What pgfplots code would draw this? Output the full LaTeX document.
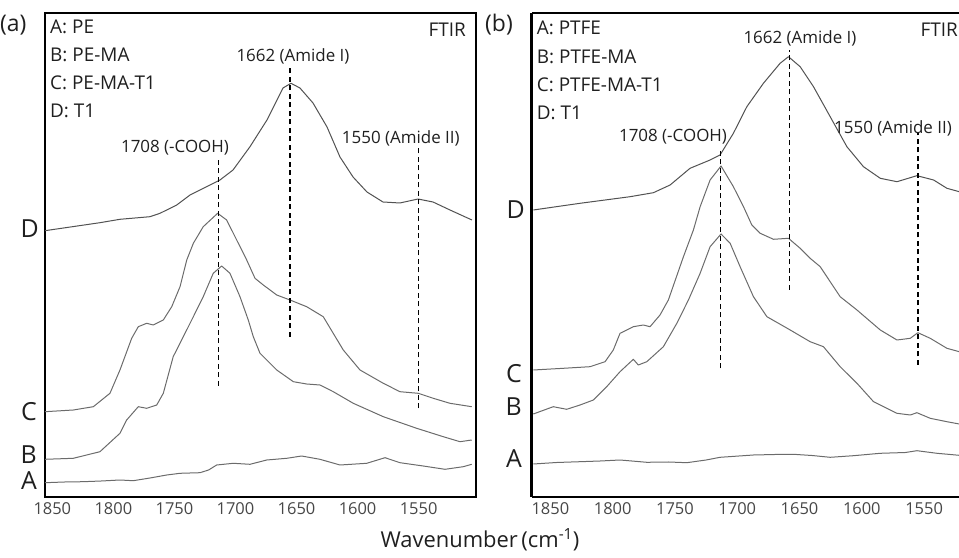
\documentclass[border=0pt]{standalone}
\usepackage{fontspec}
\setmainfont{Open Sans}
\usepackage{pgfplots}
\pgfplotsset{compat=1.18}

\newcommand\fs[1]{\fontsize{#1}{#1}\selectfont}

\pgfplotsset{
  ftir/.style={
    scale only axis, height=484bp,
    x dir=reverse, ymin=0, ymax=484,
    xtick={1550,1600,1650,1700,1750,1800,1850}, ytick=\empty,
    major tick length=0pt,
    /pgf/number format/assume math mode=true,
    /pgf/number format/set thousands separator={},
    xticklabel style={font=\fs{16.5}, text=black!72, yshift=-2bp},
    axis line style={line width=2.5bp, black},
  },
  spec/.style={line width=1bp, color=black!58, line join=round, mark=none},
  specD/.style={spec, color=black!68},
  peak/.style={black, line width=1.3bp, dash pattern=on 5bp off 3.5bp, mark=none},
}

\begin{document}
\begin{tikzpicture}
\useasboundingbox (0,0) rectangle (959bp,558bp);

% ---- panel (a): PE ----
\begin{axis}[ftir, at={(45bp,61bp)}, anchor=south west, width=431bp,
  xmin=1503, xmax=1856]
  % A: PE
  \addplot[spec] coordinates {(1856,14.3)(1840,15)(1824.6,15.3)(1810,16)(1794.6,17)(1783.7,16.3)(1770,19)(1756.3,22)(1745.4,23.7)(1729.1,24.3)(1722,27)(1715.4,32)(1701.8,33.7)(1688.1,32.7)(1674.4,37)(1658,38.7)(1645.8,41)(1630.8,37.7)(1614.4,32)(1592.5,33.7)(1577.5,39.3)(1565.3,34.3)(1546.2,31)(1528.4,27.7)(1513.4,30.3)(1506.5,32.7)};
  % B: PE-MA
  \addplot[spec] coordinates {(1856,37.7)(1832.8,38.7)(1811,45.3)(1794.6,63.7)(1789.1,77)(1779.6,90.3)(1772.7,88.7)(1764.5,92)(1759.1,103.7)(1751,140.3)(1742.7,160.3)(1734.5,180.3)(1726.4,200.3)(1718.2,223.7)(1711.3,231)(1704.5,223.7)(1696.3,200.3)(1689.5,177)(1685.4,160.3)(1679.9,143.7)(1666.2,127)(1652.6,115.3)(1641.7,113)(1630.8,112)(1619.9,105.3)(1603.5,93.7)(1578.9,80.3)(1551.6,68.7)(1529.8,60.3)(1516.1,55.3)(1506.5,57)};
  % C: PE-MA-T1
  \addplot[spec] coordinates {(1856,85.3)(1832.8,87)(1816.4,90.3)(1802.8,103.7)(1794.6,127)(1785,158.7)(1779.6,170.3)(1772.7,173.7)(1767.3,172)(1759.1,177)(1752.2,190.3)(1745.4,210.3)(1739.9,237)(1734.5,253.7)(1726.4,270.3)(1714.6,283.7)(1707.2,277)(1699,257)(1690.8,237)(1684,218.7)(1677.2,212)(1666.2,202)(1655.3,197)(1641.7,190.3)(1628.1,180.3)(1611.7,147)(1598,127)(1578.9,113.7)(1565.3,105.3)(1550.3,103.7)(1538,98.7)(1524.3,93.7)(1506.5,90.3)};
  % D: T1
  \addplot[specD] coordinates {(1856,266.3)(1811,274.3)(1794.6,277.7)(1770,280.3)(1761.8,283.7)(1748.1,292)(1737.2,302)(1729.1,307)(1712.7,317)(1702,327)(1688.1,350.3)(1674.2,377)(1661.1,409)(1654.5,413.7)(1647.2,409)(1636.5,394)(1625,370)(1614.4,340)(1603.7,320)(1592.3,305)(1579.2,295)(1565.3,294)(1550.5,298)(1538.2,295)(1524.3,287)(1506.3,277)};
  % peak markers
  \addplot[peak] coordinates {(1714.1,111.3)(1714.1,338.7)};
  \addplot[peak] coordinates {(1655.3,160.3)(1655.3,432)};
  \addplot[peak] coordinates {(1550.3,88.7)(1550.3,348.7)};
\end{axis}

% ---- panel (b): PTFE ----
\begin{axis}[ftir, at={(531.7bp,61bp)}, anchor=south west, width=427.3bp,
  xmin=1522, xmax=1865, axis x line*=box, axis y line*=left]
  % A: PTFE
  \addplot[spec] coordinates {(1863.7,33)(1845,34.5)(1826.2,35.3)(1810,36)(1794.1,37)(1780,35.5)(1772.6,34.7)(1755,35)(1740.5,34.3)(1725,37)(1713.8,39.7)(1687,42)(1670,42.5)(1654.9,42.7)(1640,41.5)(1625.4,39.7)(1606.7,41.3)(1585.2,43.7)(1565,44.5)(1555.8,46.3)(1539.7,43.7)(1521.8,41.7)};
  % B: PTFE-MA
  \addplot[spec] coordinates {(1863.7,83)(1847.7,90.3)(1836.9,87.7)(1826.2,92)(1815.5,97)(1804.8,110.3)(1794.1,125.3)(1783.4,137.7)(1779.4,132)(1772.6,135.3)(1759.3,150.3)(1748.5,173.7)(1739.2,197)(1729.8,223.7)(1721.8,250.3)(1713,263)(1705.7,253.7)(1697.7,230.3)(1687,200.3)(1676.2,180.3)(1657.5,167)(1641.5,155.3)(1630.8,150.3)(1617.4,130.3)(1603.9,113.7)(1590.6,95.3)(1571.8,83.7)(1561.1,82)(1555.8,84.3)(1545.1,78.7)(1531.7,75.3)(1521.8,73)};
  % C: PTFE-MA-T1
  \addplot[spec] coordinates {(1863.7,127)(1839.6,128.7)(1818.2,130.3)(1806.1,135.3)(1799.5,147)(1794.1,163.7)(1783.4,170.3)(1775.4,172)(1770,170.3)(1762,182)(1755.3,197)(1743.2,240.3)(1735.2,267)(1729.8,290.3)(1721.8,317)(1713,331)(1703.1,310.3)(1695,290.3)(1688.3,272)(1681.6,263.7)(1670.9,257.7)(1658.9,258.7)(1649.5,248.7)(1641.5,238.7)(1633.4,230.3)(1617.4,200.3)(1603.9,187)(1585.2,167)(1571.8,157)(1561.1,158.7)(1555,164.3)(1545.1,158.7)(1531.7,148.7)(1521.8,145.3)};
  % D: T1
  \addplot[specD] coordinates {(1863.7,287)(1826.2,293.7)(1786,300.3)(1767.3,304.3)(1753.9,312)(1737.9,328.7)(1721.8,337)(1713.8,342)(1703.1,363.7)(1692.3,390.3)(1679,413.7)(1665.6,433.7)(1658.9,440.3)(1649.5,430.3)(1638.8,410.3)(1625.4,380.3)(1612,350.3)(1598.7,330.3)(1585.2,318.7)(1571.8,315.3)(1555.8,321.3)(1542.4,317)(1531.7,308.7)(1521.8,305.3)};
  % peak markers
  \addplot[peak] coordinates {(1713.2,128.7)(1713.2,347)};
  \addplot[peak] coordinates {(1658.3,207)(1658.3,447)};
  \addplot[peak] coordinates {(1555,132)(1555,363.7)};
\end{axis}

% ---- annotations, panel (a) ----
\begin{scope}[every node/.style={inner sep=0pt, text=black!88}]
  \node[anchor=west, font=\fs{23}] at (0bp,533bp) {(a)};
  \node[anchor=base west, font=\fs{19}] at (50bp,524bp) {A: PE};
  \node[anchor=base west, font=\fs{19}] at (50bp,496.3bp) {B: PE-MA};
  \node[anchor=base west, font=\fs{19}] at (50bp,468bp) {C: PE-MA-T1};
  \node[anchor=base west, font=\fs{19}] at (50bp,440bp) {D: T1};
  \node[anchor=base east, font=\fs{19}] at (466bp,521.3bp) {FTIR};
  \node[anchor=base, font=\fs{17}] at (293bp,496.3bp) {1662 (Amide I)};
  \node[anchor=base, font=\fs{17}] at (175bp,405.3bp) {1708 (-COOH)};
  \node[anchor=base, font=\fs{17}] at (400.8bp,414bp) {1550 (Amide II)};
  \node[anchor=east, font=\fs{25}] at (39bp,329bp) {D};
  \node[anchor=east, font=\fs{25}] at (37bp,146.3bp) {C};
  \node[anchor=east, font=\fs{25}] at (37bp,103.7bp) {B};
  \node[anchor=east, font=\fs{25}] at (37bp,77.3bp) {A};
% ---- annotations, panel (b) ----
  \node[anchor=west, font=\fs{23}] at (485bp,533bp) {(b)};
  \node[anchor=base west, font=\fs{19}] at (536.7bp,523bp) {A: PTFE};
  \node[anchor=base west, font=\fs{19}] at (536.7bp,494.7bp) {B: PTFE-MA};
  \node[anchor=base west, font=\fs{19}] at (536.7bp,466.3bp) {C: PTFE-MA-T1};
  \node[anchor=base west, font=\fs{19}] at (536.7bp,438bp) {D: T1};
  \node[anchor=base east, font=\fs{19}] at (958bp,521.3bp) {FTIR};
  \node[anchor=base, font=\fs{17}] at (800bp,514.7bp) {1662 (Amide I)};
  \node[anchor=base, font=\fs{17}] at (673bp,416.3bp) {1708 (-COOH)};
  \node[anchor=base west, font=\fs{17}] at (834bp,424.7bp) {1550 (Amide II)};
  \node[anchor=east, font=\fs{25}] at (525bp,348bp) {D};
  \node[anchor=east, font=\fs{25}] at (522bp,184.7bp) {C};
  \node[anchor=east, font=\fs{25}] at (522bp,151.3bp) {B};
  \node[anchor=east, font=\fs{25}] at (522bp,99.7bp) {A};
% ---- shared axis title ----
  \node[font=\fs{22}] at (480bp,18bp) {Wavenumber\,(cm\textsuperscript{-1})};
\end{scope}
\end{tikzpicture}
\end{document}
